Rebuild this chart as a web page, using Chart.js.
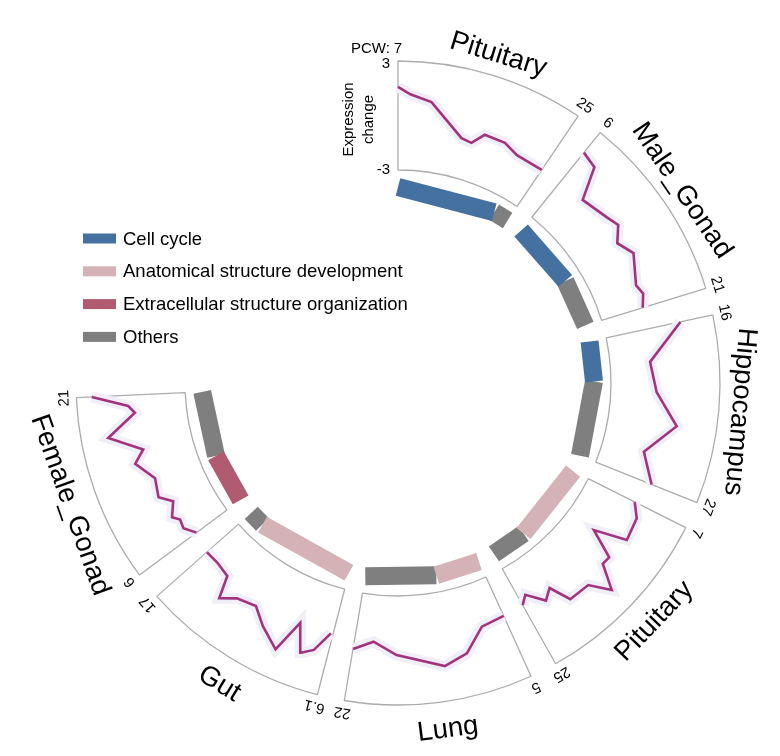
<!DOCTYPE html>
<html>
<head>
<meta charset="utf-8">
<script src="https://cdn.jsdelivr.net/npm/chart.js@4.4.1/dist/chart.umd.min.js"></script>
<style>
html, body { margin: 0; padding: 0; background: #fff; }
#wrap { position: relative; width: 780px; height: 756px; }
#wrap canvas { position: absolute; left: 0; top: 0; }
</style>
</head>
<body>
<div id="wrap">
  <canvas id="ringChart" width="780" height="756"></canvas>
  <canvas id="lineChart" width="780" height="756"></canvas>
</div>
<script>
// 各区段（组织）
const tissues = ['Pituitary', 'Male_Gonad', 'Hippocampus', 'Pituitary', 'Lung', 'Gut', 'Female_Gonad'];
const pcwStart = [7, 6, 16, 7, 5, 6.1, 6];
const pcwEnd = [25, 21, 27, 25, 22, 17, 21];
const startLabels = ['7', '6', '16', '7', '5', '6.1', '6'];
const endLabels = ['25', '21', '27', '25', '22', '17', '21'];

// 表达变化 y 轴
const exprMin = -3;
const exprMax = 3;

// 各组织的平均曲线 (PCW, 表达变化)
const pituitaryAPcw = [7, 8.3, 10.6, 14.7, 16.0, 17.2, 19.7, 21.6, 25];
const pituitaryAExpr = [1.57, 1.18, 0.85, -0.80, -0.90, -0.25, -0.25, -0.58, -0.58];
const maleGonadPcw = [6, 7.5, 8.8, 11.6, 12.8, 14.2, 15.8, 18.7, 19.7, 21];
const maleGonadExpr = [1.57, 1.34, -0.41, -0.05, 0.20, -0.41, 0.08, -0.56, -0.36, -0.63];
const hippocampusPcw = [16, 18.4, 20.6, 22.8, 25.0, 27];
const hippocampusExpr = [1.18, -0.80, -0.48, 0.80, -0.67, 0.31];
const pituitaryBPcw = [7, 8.5, 11.1, 12.4, 13.8, 14.8, 16.2, 17.6, 20.1, 21.2, 22.4, 24.1, 25];
const pituitaryBExpr = [-0.14, 0.38, 0.55, -1.24, 0.35, 0.31, 1.65, 0.55, 0.49, -0.69, -0.24, -1.12, -0.70];
const lungPcw = [5, 7.7, 10.05, 12.5, 17.35, 19.9, 22];
const lungExpr = [-0.65, -0.54, 0.63, 1.07, 0.25, -0.42, 0.12];
const gutPcw = [6.26, 7.06, 7.8, 8.56, 9.37, 10.78, 11.87, 13.25, 14.18, 14.75, 15.94, 17];
const gutExpr = [-0.46, 0.68, 1.06, -0.47, 1.41, 0.58, -0.17, 0.08, 0.68, -0.54, -0.70, -0.68];
const femaleGonadPcw = [6, 7.1, 8.0, 8.6, 9.9, 10.9, 12.7, 14.6, 15.7, 17.4, 19.3, 20, 21];
const femaleGonadExpr = [-0.91, -0.46, -0.57, -0.26, -0.74, -0.12, -0.36, 0.41, -0.23, 1.51, -0.15, 0.18, 2.15];

const linePcw = [pituitaryAPcw, maleGonadPcw, hippocampusPcw, pituitaryBPcw, lungPcw, gutPcw, femaleGonadPcw];
const lineExpr = [pituitaryAExpr, maleGonadExpr, hippocampusExpr, pituitaryBExpr, lungExpr, gutExpr, femaleGonadExpr];

// 内圈功能分类条
const categories = ['Cell cycle', 'Anatomical structure development', 'Extracellular structure organization', 'Others'];
const barCategories = [
    ['Cell cycle', 'Others'],
    ['Cell cycle', 'Others'],
    ['Cell cycle', 'Others'],
    ['Anatomical structure development', 'Others'],
    ['Anatomical structure development', 'Others'],
    ['Anatomical structure development', 'Others'],
    ['Extracellular structure organization', 'Others']
];
const barShares = [
    [0.865, 0.135],
    [0.58, 0.42],
    [0.345, 0.655],
    [0.69, 0.31],
    [0.386, 0.614],
    [0.86, 0.14],
    [0.435, 0.565]
];

// 样式
const categoryColors = {
    'Cell cycle': '#4571a1',
    'Anatomical structure development': '#d5b2b5',
    'Extracellular structure organization': '#b15b71',
    'Others': '#7f7f7f'
};
const FONT = '"Liberation Sans", Arial, sans-serif';
const R_OUT = 322, R_IN = 213, R_BAR = 196, BAR_W = 18;
const SPAN = 34, GAP = 4.9;
const CX = 398, CY = 383, W = 780, H = 756;

function sectorStart(i) { return i * (SPAN + GAP); }
function pcwToDeg(i, pcw) { return sectorStart(i) + (pcw - pcwStart[i]) / (pcwEnd[i] - pcwStart[i]) * SPAN; }
function exprToR(v) { return R_IN + (v - exprMin) / (exprMax - exprMin) * (R_OUT - R_IN); }
function polar(deg, r) {
    const a = deg * Math.PI / 180;
    return { x: r * Math.sin(a), y: r * Math.cos(a) };
}

// 外圈轨道 (doughnut)
const trackData = [], trackBg = [], trackBorder = [], trackBw = [];
tissues.forEach((t, i) => {
    trackData.push(SPAN); trackBg.push('#ffffff'); trackBorder.push('#acacac'); trackBw.push(1.3);
    if (i < tissues.length - 1) {
        trackData.push(GAP); trackBg.push('rgba(0,0,0,0)'); trackBorder.push('rgba(0,0,0,0)'); trackBw.push(0);
    }
});
trackData.push(360 - trackData.reduce((a, b) => a + b, 0));
trackBg.push('rgba(0,0,0,0)'); trackBorder.push('rgba(0,0,0,0)'); trackBw.push(0);

new Chart(document.getElementById('ringChart'), {
    type: 'doughnut',
    data: {
        labels: trackData.map((v, i) => 'seg' + i),
        datasets: [{
            data: trackData,
            backgroundColor: trackBg,
            borderColor: trackBorder,
            borderWidth: trackBw
        }]
    },
    options: {
        responsive: false,
        animation: false,
        events: [],
        radius: R_OUT,
        cutout: (R_IN / R_OUT * 100) + '%',
        layout: { padding: { left: 2 * CX - W, top: 2 * CY - H, right: 0, bottom: 0 } },
        plugins: { legend: { display: false }, tooltip: { enabled: false } }
    }
});

// 曲线与分类条 (scatter)
const datasets = [];
tissues.forEach((t, i) => {
    const pts = linePcw[i].map((p, k) => polar(pcwToDeg(i, p), exprToR(lineExpr[i][k])));
    datasets.push({ data: pts, showLine: true, borderColor: '#a2347f', borderWidth: 2.6, pointRadius: 0, order: 0 });
    datasets.push({ data: pts, showLine: true, borderColor: '#f0eef7', borderWidth: 11, borderJoinStyle: 'miter', pointRadius: 0, order: 3 });
    let acc = 0;
    barShares[i].forEach((s, k) => {
        const a0 = sectorStart(i) + acc * SPAN;
        const a1 = sectorStart(i) + (acc + s) * SPAN;
        acc += s;
        datasets.push({
            data: [polar(a0, R_BAR), polar(a1, R_BAR)],
            showLine: true,
            borderColor: categoryColors[barCategories[i][k]],
            borderWidth: BAR_W,
            borderCapStyle: 'butt',
            pointRadius: 0,
            order: 1
        });
    });
});

const labelPlugin = {
    id: 'circleLabels',
    afterDraw(chart) {
        const ctx = chart.ctx;
        const sx = chart.scales.x, sy = chart.scales.y;
        const toPx = (deg, r) => {
            const p = polar(deg, r);
            return [sx.getPixelForValue(p.x), sy.getPixelForValue(p.y)];
        };
        const rotText = (text, deg, r, rot, size) => {
            const [px, py] = toPx(deg, r);
            ctx.save();
            ctx.translate(px, py);
            ctx.rotate(rot * Math.PI / 180);
            ctx.font = size + 'px ' + FONT;
            ctx.textAlign = 'center';
            ctx.textBaseline = 'middle';
            ctx.fillText(text, 0, 0);
            ctx.restore();
        };
        ctx.save();
        ctx.fillStyle = '#000';
        tissues.forEach((name, i) => {
            const mid = sectorStart(i) + SPAN / 2;
            const flip = mid > 100 && mid < 270;
            rotText(name, flip ? mid - 0.8 : mid, flip ? 350 : 343, flip ? mid - 180 : mid, 27.5);
            const a0 = sectorStart(i), a1 = sectorStart(i) + SPAN;
            rotText(startLabels[i], a0, 334, a0, 15);
            rotText(endLabels[i], a1, 334, a1, 15);
        });
        // 左上角坐标说明
        const [x0, yTop] = toPx(0, exprToR(exprMax));
        const [, yBot] = toPx(0, exprToR(exprMin));
        const [, yMid] = toPx(0, exprToR(0));
        const [, yPcw] = toPx(0, 334);
        ctx.font = '15px ' + FONT;
        ctx.textBaseline = 'middle';
        ctx.textAlign = 'right';
        ctx.fillText('PCW: ', x0 - 4, yPcw);
        ctx.fillText(String(exprMax), x0 - 8, yTop + 3);
        ctx.fillText(String(exprMin), x0 - 8, yBot);
        ctx.save();
        ctx.translate(x0 - 49, yMid + 4);
        ctx.rotate(-Math.PI / 2);
        ctx.textAlign = 'center';
        ctx.fillText('Expression', 0, 0);
        ctx.fillText('change', 0, 20);
        ctx.restore();
        // 图例
        categories.forEach((c, k) => {
            const y = 238.5 + k * 32.8;
            ctx.fillStyle = categoryColors[c];
            ctx.fillRect(83, y - 5, 33, 10);
            ctx.fillStyle = '#000';
            ctx.font = '18.5px ' + FONT;
            ctx.textAlign = 'left';
            ctx.textBaseline = 'middle';
            ctx.fillText(c, 123, y + 1);
        });
        ctx.restore();
    }
};

new Chart(document.getElementById('lineChart'), {
    type: 'scatter',
    data: { datasets: datasets },
    options: {
        responsive: false,
        animation: false,
        events: [],
        layout: { padding: 0 },
        scales: {
            x: { type: 'linear', min: -CX, max: W - CX, display: false },
            y: { type: 'linear', min: CY - H, max: CY, display: false }
        },
        plugins: { legend: { display: false }, tooltip: { enabled: false } }
    },
    plugins: [labelPlugin]
});
</script>
</body>
</html>
